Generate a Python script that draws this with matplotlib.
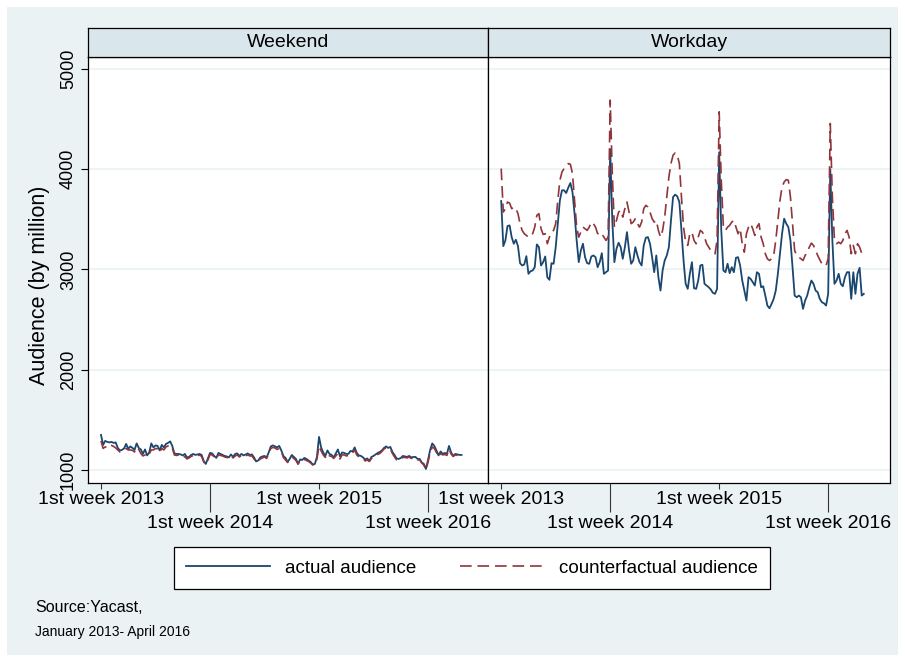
import numpy as np
import matplotlib.pyplot as plt
from matplotlib.patches import Rectangle

plt.rcParams['font.family'] = ['Liberation Sans', 'DejaVu Sans']

# ---- data (weekly audience, by million) ----
panels = ['Weekend', 'Workday']
series_names = ['actual audience', 'counterfactual audience']
week_ticks = [0, 52, 104, 156]
tick_labels = ['1st week 2013', '1st week 2014', '1st week 2015', '1st week 2016']
y_ticks = [1000, 2000, 3000, 4000, 5000]

weekend_actual = [
    1350, 1250, 1290, 1280, 1275, 1280, 1270, 1275, 1220, 1195,
    1200, 1215, 1260, 1210, 1235, 1220, 1200, 1265, 1220, 1205,
    1160, 1205, 1145, 1175, 1265, 1225, 1245, 1240, 1195, 1250,
    1225, 1260, 1270, 1285, 1240, 1165, 1160, 1160, 1155, 1145,
    1160, 1125, 1130, 1150, 1160, 1150, 1155, 1160, 1150, 1090,
    1060, 1115, 1170, 1165, 1140, 1120, 1170, 1160, 1150, 1140,
    1135, 1125, 1155, 1130, 1160, 1165, 1140, 1160, 1145, 1155,
    1165, 1150, 1155, 1125, 1085, 1095, 1125, 1135, 1140, 1125,
    1175, 1235, 1245, 1235, 1225, 1240, 1195, 1140, 1120, 1080,
    1110, 1150, 1130, 1110, 1060, 1105, 1100, 1120, 1110, 1095,
    1080, 1055, 1060, 1130, 1330, 1225, 1175, 1140, 1195, 1160,
    1150, 1125, 1165, 1205, 1135, 1175, 1170, 1160, 1160, 1190,
    1185, 1225, 1170, 1145, 1140, 1125, 1105, 1115, 1090, 1130,
    1140, 1155, 1170, 1180, 1195, 1220, 1235, 1220, 1230, 1180,
    1150, 1115, 1110, 1120, 1140, 1135, 1130, 1140, 1125, 1130,
    1130, 1110, 1110, 1075, 1060, 1010, 1100, 1200, 1265, 1240,
    1195, 1145, 1185, 1160, 1170, 1160, 1240, 1175, 1140, 1160,
    1155, 1150, 1150]

weekend_counterfactual = [
    1290, 1215, 1230, 1225, 1250, 1245, 1235, 1220, 1200, 1180,
    1195, 1200, 1215, 1200, 1200, 1195, 1180, 1225, 1205, 1165,
    1140, 1150, 1130, 1160, 1200, 1200, 1215, 1210, 1175, 1215,
    1200, 1230, 1240, 1250, 1220, 1150, 1145, 1150, 1140, 1120,
    1135, 1110, 1120, 1135, 1145, 1130, 1140, 1150, 1135, 1080,
    1055, 1100, 1155, 1150, 1130, 1110, 1150, 1145, 1140, 1130,
    1125, 1115, 1140, 1120, 1140, 1150, 1130, 1145, 1130, 1140,
    1150, 1140, 1140, 1110, 1080, 1085, 1110, 1120, 1130, 1115,
    1160, 1215, 1225, 1220, 1205, 1215, 1185, 1125, 1100, 1075,
    1095, 1130, 1115, 1095, 1060, 1090, 1090, 1105, 1095, 1085,
    1070, 1050, 1050, 1110, 1240, 1190, 1150, 1125, 1165, 1140,
    1135, 1115, 1140, 1165, 1110, 1150, 1150, 1140, 1145, 1170,
    1170, 1200, 1150, 1130, 1125, 1115, 1090, 1100, 1085, 1115,
    1125, 1140, 1155, 1165, 1185, 1210, 1220, 1205, 1210, 1165,
    1130, 1100, 1095, 1110, 1125, 1125, 1120, 1130, 1115, 1120,
    1120, 1100, 1100, 1070, 1050, 1000, 1080, 1170, 1230, 1215,
    1175, 1130, 1165, 1150, 1155, 1145, 1210, 1160, 1135, 1150,
    1145, 1140, 1145]

workday_actual = [
    3683, 3233, 3290, 3433, 3440, 3323, 3257, 3297, 3233, 3063,
    3040, 3050, 3133, 2957, 2983, 2990, 3023, 3250, 3223, 3040,
    3073, 3130, 2923, 2897, 3063, 3057, 3223, 3457, 3690, 3790,
    3790, 3763, 3817, 3863, 3773, 3557, 3290, 3073, 3190, 3257,
    3123, 3063, 3057, 3130, 3140, 3123, 3023, 3073, 3163, 2957,
    2973, 2990, 4200, 3490, 3073, 3207, 3267, 3223, 3107, 3223,
    3373, 3190, 3057, 3090, 3223, 3140, 3073, 3040, 3240, 3317,
    3323, 3257, 3123, 2973, 3140, 2923, 2790, 2990, 3090, 3140,
    3223, 3490, 3723, 3747, 3730, 3673, 3390, 3090, 2857, 2807,
    2957, 3073, 2813, 2807, 2890, 3040, 3047, 2857, 2840, 2823,
    2800, 2767, 2757, 2807, 4170, 3390, 2990, 2973, 3057, 2963,
    3023, 2973, 3117, 3123, 3040, 2890, 2790, 2690, 2923, 2907,
    2873, 2840, 2973, 2957, 2823, 2833, 2740, 2640, 2613, 2657,
    2707, 2790, 2957, 3157, 3357, 3507, 3457, 3423, 3290, 3023,
    2740, 2723, 2740, 2723, 2607, 2690, 2740, 2823, 2890, 2857,
    2790, 2773, 2707, 2673, 2663, 2640, 2757, 4000, 3290, 2857,
    2890, 2957, 2857, 2833, 2923, 2973, 2973, 2707, 2973, 2757,
    2957, 3017, 2740, 2757]

workday_counterfactual = [
    4007, 3573, 3607, 3673, 3663, 3607, 3623, 3607, 3557, 3457,
    3390, 3357, 3340, 3323, 3330, 3357, 3423, 3540, 3557, 3407,
    3350, 3357, 3257, 3323, 3373, 3390, 3457, 3690, 3890, 3973,
    4007, 4030, 4057, 4050, 3957, 3690, 3423, 3323, 3373, 3423,
    3407, 3390, 3423, 3473, 3457, 3423, 3357, 3373, 3357, 3323,
    3290, 3323, 4690, 3957, 3423, 3490, 3573, 3590, 3523, 3607,
    3673, 3573, 3457, 3473, 3507, 3457, 3423, 3473, 3607, 3640,
    3623, 3573, 3507, 3473, 3490, 3390, 3323, 3390, 3523, 3723,
    3923, 4057, 4140, 4163, 4140, 4057, 3723, 3423, 3273, 3240,
    3357, 3373, 3290, 3257, 3323, 3390, 3373, 3323, 3257, 3223,
    3190, 3173, 3157, 3290, 4573, 3890, 3423, 3390, 3423, 3440,
    3473, 3490, 3423, 3357, 3407, 3257, 3173, 3357, 3423, 3457,
    3407, 3340, 3423, 3457, 3323, 3257, 3157, 3107, 3090, 3107,
    3140, 3290, 3490, 3690, 3823, 3873, 3897, 3890, 3723, 3457,
    3190, 3140, 3123, 3107, 3090, 3140, 3173, 3223, 3263, 3240,
    3190, 3140, 3097, 3057, 3040, 3040, 3107, 4457, 3723, 3290,
    3257, 3273, 3257, 3290, 3357, 3390, 3323, 3157, 3240, 3157,
    3257, 3223, 3163, 3207]

# ---- colours (stata s2color look) ----
bg_col = '#EAF2F3'
strip_col = '#D9E6EB'
grid_col = '#EAF2F3'
actual_col = '#1A476F'
counter_col = '#90353B'

W, H = 905, 662
fig = plt.figure(figsize=(W / 100, H / 100), dpi=100)
fig.patch.set_facecolor('white')
fig.add_artist(Rectangle((7 / W, 7 / H), (W - 14) / W, (H - 14) / H,
                         transform=fig.transFigure, facecolor=bg_col,
                         edgecolor='none', zorder=-10))

plot_top, plot_bottom = 57, 483
strip_top = 28
panel_x = [(88, 488), (488, 890)]
xlims = [(-6.2, 184.6), (-6.3, 185.5)]
data = [(weekend_actual, weekend_counterfactual),
        (workday_actual, workday_counterfactual)]

axes = []
for i, (x0, x1) in enumerate(panel_x):
    ax = fig.add_axes([x0 / W, 1 - plot_bottom / H, (x1 - x0) / W,
                       (plot_bottom - plot_top) / H])
    ax.set_facecolor('white')
    act, cf = data[i]
    ax.plot(np.arange(len(act)), act, color=actual_col, lw=1.3,
            label=series_names[0], zorder=3)
    ax.plot(np.arange(len(cf)), cf, color=counter_col, lw=1.2,
            linestyle=(0, (7, 3.5)), label=series_names[1], zorder=4)
    ax.set_ylim(870, 5120)
    ax.set_xlim(*xlims[i])
    ax.set_yticks(y_ticks)
    for yv in y_ticks:
        ax.axhline(yv, color=grid_col, lw=1.2, zorder=1)
    # staggered x labels: 2013/2015 short ticks, 2014/2016 long ticks
    ax.set_xticks(week_ticks[0::2])
    ax.set_xticklabels(tick_labels[0::2])
    ax.set_xticks(week_ticks[1::2], minor=True)
    ax.set_xticklabels(tick_labels[1::2], minor=True)
    ax.tick_params(axis='x', which='major', length=4, width=0.8, pad=2,
                   labelsize=14, color='#333333')
    ax.tick_params(axis='x', which='minor', length=21, width=0.8, pad=2,
                   labelsize=14, color='#333333')
    for sp in ax.spines.values():
        sp.set_color('black')
        sp.set_linewidth(0.9)
    if i == 0:
        ax.tick_params(axis='y', length=5, width=0.8, pad=3, labelsize=13)
        for lab in ax.get_yticklabels():
            lab.set_rotation(90)
            lab.set_va('center')
    else:
        ax.tick_params(axis='y', left=False, labelleft=False)
    axes.append(ax)

    # panel strip on top
    st = fig.add_axes([x0 / W, 1 - plot_top / H, (x1 - x0) / W,
                       (plot_top - strip_top) / H])
    st.set_facecolor(strip_col)
    st.set_xticks([])
    st.set_yticks([])
    for sp in st.spines.values():
        sp.set_color('black')
        sp.set_linewidth(0.9)
    st.text(0.5, 0.5, panels[i], ha='center', va='center', fontsize=14,
            transform=st.transAxes)

fig.text(40 / W, 1 - 285 / H, 'Audience (by million)', rotation=90,
         ha='center', va='center', fontsize=15.5)

handles, labels = axes[0].get_legend_handles_labels()
leg = fig.legend(handles, labels, loc='center', ncol=2,
                 bbox_to_anchor=(472 / W, 1 - 568 / H), fontsize=13.5,
                 frameon=True, fancybox=False, edgecolor='black',
                 facecolor='white', framealpha=1, handlelength=4.5,
                 handletextpad=0.8, columnspacing=2.3, borderpad=0.65)
leg.get_frame().set_linewidth(0.9)

fig.text(35 / W, 1 - 608 / H, 'Source:Yacast,', ha='left', va='center',
         fontsize=11.5)
fig.text(35 / W, 1 - 632 / H, 'January 2013- April 2016', ha='left',
         va='center', fontsize=10)

fig.savefig('out.png', dpi=100)
